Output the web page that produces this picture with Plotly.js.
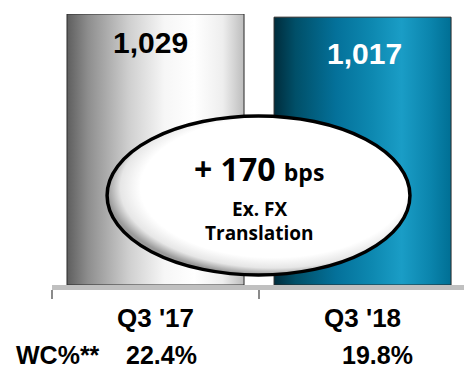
<!DOCTYPE html>
<html><head><meta charset="utf-8">
<script src="https://cdn.plot.ly/plotly-3.0.1.min.js"></script>
<style>html,body{margin:0;padding:0;background:#fff;}#chart{width:464px;height:369px;}</style>
</head><body><div id="chart"></div>
<script>
const categories = ["Q3 '17", "Q3 '18"];
const values = [1029, 1017];
const valueLabels = ["1,029", "1,017"];
const wcLabel = "WC%**";
const wcValues = ["22.4%", "19.8%"];
const calloutMain = "+ 170";
const calloutUnit = "bps";
const calloutSub = ["Ex. FX", "Translation"];

const bold = {family: "Liberation Sans, Arial, sans-serif", weight: "bold"};
const trace = {
  type: "bar", x: categories, y: values,
  marker: {color: ["#dddddd", "#0a7ea4"], line: {color: "#2a2a2a", width: 1}},
  hoverinfo: "none"
};
const annotations = [];
categories.forEach((c, i) => {
  annotations.push({x: c, xref: "x", y: values[i], yref: "y", yanchor: "top", yshift: i === 0 ? -10 : -18,
    xshift: i === 0 ? -5 : 2,
    text: valueLabels[i], showarrow: false,
    font: Object.assign({size: 30, color: i === 0 ? "#000" : "#fff"}, bold)});
  annotations.push({x: c, xref: "x", y: 0, yref: "y", yanchor: "middle", yshift: -70,
    xshift: i === 0 ? 6 : 15,
    text: wcValues[i], showarrow: false, font: Object.assign({size: 25, color: "#000"}, bold)});
});
annotations.push({x: categories[0], xref: "x", xanchor: "left", xshift: -142, y: 0, yref: "y", yanchor: "middle", yshift: -70,
  text: wcLabel, showarrow: false, font: Object.assign({size: 25, color: "#000"}, bold)});

const ovalFont = {family: "Open Sans, sans-serif", weight: "bold", color: "#000"};
annotations.push({x: 0.5, xref: "x", y: 442, yref: "y", yanchor: "middle", showarrow: false,
  text: calloutMain + " <span style='font-size:23px'>" + calloutUnit + "</span>",
  font: Object.assign({size: 32}, ovalFont)});
annotations.push({x: 0.5, xref: "x", y: 289, yref: "y", yanchor: "middle", showarrow: false,
  text: calloutSub[0], font: Object.assign({size: 19}, ovalFont)});
annotations.push({x: 0.5, xref: "x", y: 198, yref: "y", yanchor: "middle", showarrow: false,
  text: calloutSub[1], font: Object.assign({size: 19}, ovalFont)});

const layout = {
  width: 464, height: 369,
  margin: {l: 52, r: 0, t: 14, b: 84},
  paper_bgcolor: "#fff", plot_bgcolor: "#fff",
  showlegend: false, bargap: 0.145,
  xaxis: {type: "category", range: [-0.5, 1.49], showline: true, linecolor: "#c0c0c0", linewidth: 5,
    ticks: "outside", tickson: "boundaries", ticklen: 9, tickcolor: "#8a8a8a", tickwidth: 2,
    tickfont: Object.assign({size: 26, color: "#000"}, bold), ticklabelstandoff: 6, showgrid: false, zeroline: false},
  yaxis: {range: [0, 1029], visible: false, showgrid: false, zeroline: false},
  shapes: [{type: "circle", xref: "x", yref: "y", x0: -0.234, x1: 1.229, y0: 38, y1: 642,
    fillcolor: "#ffffff", line: {color: "#000", width: 3.5}, layer: "above"}],
  annotations: annotations
};

Plotly.newPlot("chart", [trace], layout, {staticPlot: true}).then(gd => {
  const svg = gd.querySelector(".main-svg");
  const ns = "http://www.w3.org/2000/svg";
  let defs = svg.querySelector("defs");
  if (!defs) { defs = document.createElementNS(ns, "defs"); svg.insertBefore(defs, svg.firstChild); }
  function lin(id, stops) {
    const g = document.createElementNS(ns, "linearGradient");
    g.setAttribute("id", id); g.setAttribute("x1", "0"); g.setAttribute("x2", "1"); g.setAttribute("y1", "0"); g.setAttribute("y2", "0");
    stops.forEach(s => { const st = document.createElementNS(ns, "stop"); st.setAttribute("offset", s[0]); st.setAttribute("stop-color", s[1]); g.appendChild(st); });
    defs.appendChild(g);
  }
  lin("gGray", [["0", "#5e5e5e"], ["0.12", "#8e8e8e"], ["0.35", "#cfcfcf"], ["0.55", "#f6f6f6"], ["0.72", "#ffffff"], ["0.88", "#eeeeee"], ["1", "#bdbdbd"]]);
  lin("gTeal", [["0", "#002c3c"], ["0.12", "#004f68"], ["0.35", "#04719a"], ["0.55", "#0d88b0"], ["0.72", "#1a9dc6"], ["0.88", "#0b85ad"], ["1", "#006f94"]]);
  const rg = document.createElementNS(ns, "radialGradient");
  rg.setAttribute("id", "gOval"); rg.setAttribute("cx", "0.55"); rg.setAttribute("cy", "0.45"); rg.setAttribute("r", "0.55");
  [["0", "#ffffff"], ["0.8", "#ffffff"], ["0.92", "#e6e6e6"], ["1", "#9a9a9a"]].forEach(s => {
    const st = document.createElementNS(ns, "stop"); st.setAttribute("offset", s[0]); st.setAttribute("stop-color", s[1]); rg.appendChild(st); });
  defs.appendChild(rg);
  const bars = gd.querySelectorAll(".barlayer .point path");
  if (bars[0]) bars[0].style.fill = "url(#gGray)";
  if (bars[1]) bars[1].style.fill = "url(#gTeal)";
  gd.querySelectorAll(".shapelayer path").forEach(p => { p.style.fill = "url(#gOval)"; p.style.fillOpacity = 1; });
});
</script></body></html>
